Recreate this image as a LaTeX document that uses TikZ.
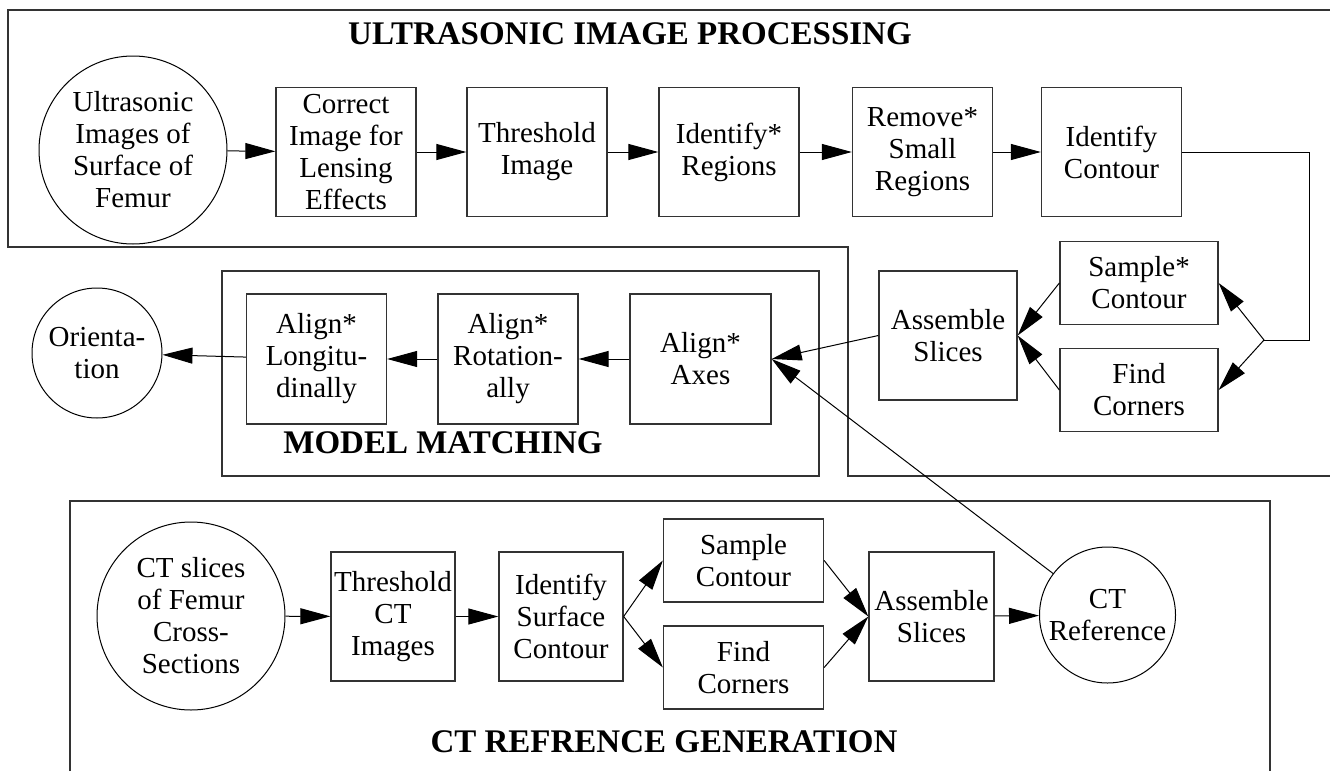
\documentclass[tikz,border=0pt]{standalone}
\usepackage{fontspec}
\setmainfont{Liberation Serif}
\usepackage{tikz}
\usetikzlibrary{arrows.meta}

\begin{document}
\begin{tikzpicture}[x=1pt,y=-1pt,
  bx/.style={draw=black!80,line width=1.3pt,minimum width=140pt,minimum height=129pt,inner sep=1pt,align=center,font=\fontsize{29}{32}\selectfont},
  sm/.style={bx,minimum width=160pt,minimum height=83pt},
  cr/.style={draw,line width=1pt,circle,inner sep=0pt,align=center,font=\fontsize{29}{32}\selectfont},
  hd/.style={font=\fontsize{33}{36}\selectfont\bfseries},
  rg/.style={draw=black!80,line width=1.5pt},
  ar/.style={-{Triangle[length=30pt,width=16pt]},line width=1pt}]
\useasboundingbox (0,0) rectangle (1330,771);
% regions
\draw[rg] (1330,10) -- (8,10) -- (8,247) -- (848,247) -- (848,476) -- (1330,476);
\draw[rg] (222,271) rectangle (819,476);
\draw[rg] (70,771) -- (70,501) -- (1270,501) -- (1270,771);
\node[hd] (t1) at (630,34)  {ULTRASONIC IMAGE PROCESSING};
\node[hd] (t2) at (443,443) {MODEL MATCHING};
\node[hd] (t3) at (664,742) {CT REFRENCE GENERATION};
% ultrasonic image processing
\node[cr,minimum size=188pt] (us) at (133,150) {Ultrasonic\\Images of\\Surface of\\Femur};
\node[bx] (cor) at (346,152)    {Correct\\Image for\\Lensing\\Effects};
\node[bx] (thr) at (537,152)    {Threshold\\Image};
\node[bx] (idr) at (729,152)    {Identify*\\Regions};
\node[bx] (rem) at (922.5,152)  {Remove*\\Small\\Regions};
\node[bx] (idc) at (1111.5,152) {Identify\\Contour};
\node[sm,minimum width=158pt] (smp) at (1139,283) {Sample*\\Contour};
\node[sm,minimum width=158pt] (fcr) at (1139,390) {Find\\Corners};
\node[bx,minimum width=138pt] (asm) at (948,335.5) {Assemble\\Slices};
\coordinate (br) at (1264,340);
\draw[ar] (us) -- (cor);
\draw[ar] (cor) -- (thr);
\draw[ar] (thr) -- (idr);
\draw[ar] (idr) -- (rem);
\draw[ar] (rem) -- (idc);
\draw[line width=1pt] (idc.east) -- ++(127,0) |- (br);
\draw[ar] (br) -- (smp.east);
\draw[ar] (br) -- (fcr.east);
\draw[ar] (smp.west) -- (asm.east);
\draw[ar] (fcr.west) -- (asm.east);
% model matching
\node[bx,minimum width=141pt,minimum height=130pt] (axs) at (700.5,359) {Align*\\Axes};
\node[bx,minimum height=130pt] (rot) at (508,359)   {Align*\\Rotation-\\ally};
\node[bx,minimum height=130pt] (lng) at (316.5,359) {Align*\\Longitu-\\dinally};
\node[cr,minimum size=130pt] (ori) at (97,353) {Orienta-\\tion};
\draw[ar] (asm.west) -- (axs.east);
\draw[ar] (axs) -- (rot);
\draw[ar] (rot) -- (lng);
\draw[ar] (lng) -- (ori);
% ct reference generation
\node[cr,minimum size=188pt] (cts) at (191,616) {CT slices\\of Femur\\Cross-\\Sections};
\node[bx,minimum width=124pt] (thc) at (393,616.5) {Threshold\\CT\\Images};
\node[bx,minimum width=124pt] (isc) at (561,616.5) {Identify\\Surface\\Contour};
\node[sm] (smc) at (743.5,560.5) {Sample\\Contour};
\node[sm] (fcc) at (743.5,667.5) {Find\\Corners};
\node[bx,minimum width=125pt] (asc) at (931.5,616.5) {Assemble\\Slices};
\node[cr,minimum size=136pt] (ctr) at (1107.5,615) {CT\\Reference};
\draw[ar] (cts) -- (thc);
\draw[ar] (thc) -- (isc);
\draw[ar] (isc.east) -- (smc.west);
\draw[ar] (isc.east) -- (fcc.west);
\draw[ar] (smc.east) -- (asc.west);
\draw[ar] (fcc.east) -- (asc.west);
\draw[ar] (asc) -- (ctr);
\draw[ar] (ctr) -- (axs.east);
\end{tikzpicture}
\end{document}
